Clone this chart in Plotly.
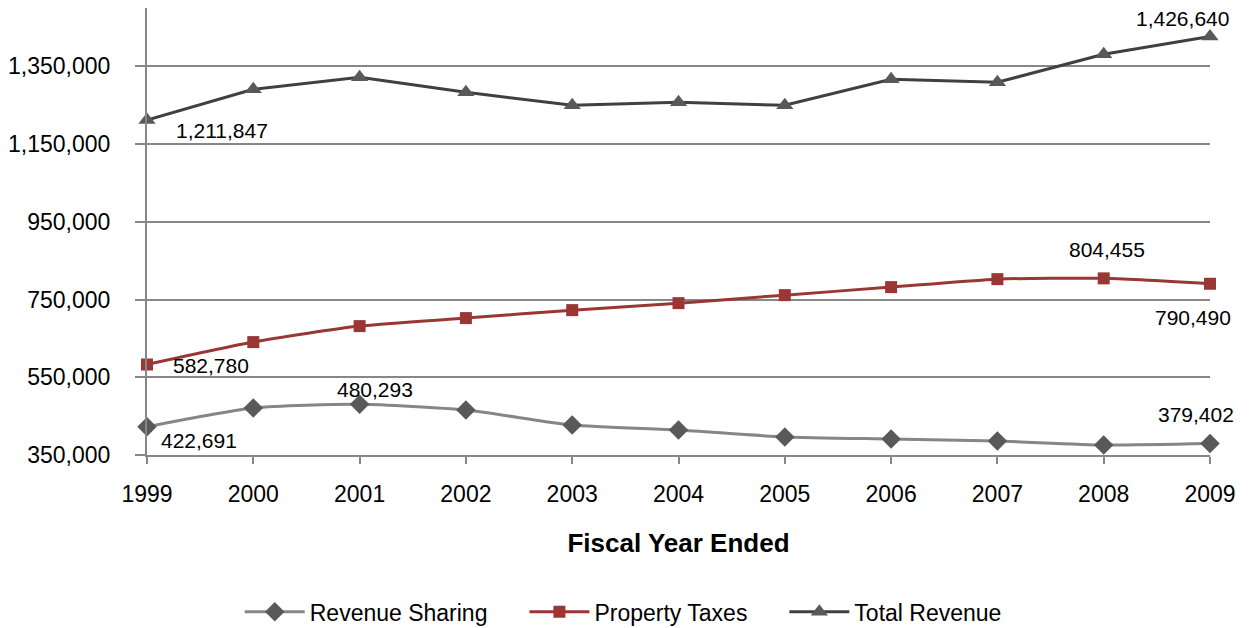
import plotly.graph_objects as go

years = [1999, 2000, 2001, 2002, 2003, 2004, 2005, 2006, 2007, 2008, 2009]
revenue_sharing = [422691, 470800, 480293, 465700, 427100, 414300, 396300, 391100, 386000, 375700, 379402]
property_taxes = [582780, 640500, 681600, 702200, 722700, 740700, 761300, 781900, 802400, 804455, 790490]
total_revenue = [1211847, 1290900, 1321700, 1283000, 1249700, 1257500, 1249700, 1316600, 1308900, 1380800, 1426640]
y_ticks = [350000, 550000, 750000, 950000, 1150000, 1350000]
series_names = ["Revenue Sharing", "Property Taxes", "Total Revenue"]

FONT = "Arial, Liberation Sans, sans-serif"
PAD = "\u00a0" * 5

fig = go.Figure()
fig.add_trace(go.Scatter(
    x=years, y=revenue_sharing, name=series_names[0] + PAD, mode="lines+markers",
    line=dict(color="#868686", width=3, shape="spline", smoothing=0.6),
    marker=dict(symbol="diamond", size=15, color="#595959"), cliponaxis=False))
fig.add_trace(go.Scatter(
    x=years, y=property_taxes, name=series_names[1] + PAD, mode="lines+markers",
    line=dict(color="#993735", width=3, shape="spline", smoothing=0.6),
    marker=dict(symbol="square", size=12, color="#993735"), cliponaxis=False))
fig.add_trace(go.Scatter(
    x=years, y=total_revenue, name=series_names[2], mode="lines+markers",
    line=dict(color="#404040", width=3),
    marker=dict(symbol="triangle-up", size=15, color="#595959"), cliponaxis=False))

def fmt(v):
    return f"{v:,}"

labels = [
    (years[0], total_revenue[0], 75, -10),
    (years[10], total_revenue[10], -28, 18),
    (years[9], property_taxes[9], 3, 29),
    (years[10], property_taxes[10], -17, -34),
    (years[0], property_taxes[0], 64, -1),
    (years[0], revenue_sharing[0], 52, -14),
    (years[2], revenue_sharing[2], 15, 15),
    (years[10], revenue_sharing[10], -14, 29),
]
for x, y, dx, dy in labels:
    fig.add_annotation(x=x, y=y, xref="x", yref="y", text=fmt(y), showarrow=False,
                       xshift=dx, yshift=dy, font=dict(family=FONT, size=21, color="#000000"))

fig.update_layout(
    width=1249, height=628,
    paper_bgcolor="white", plot_bgcolor="white",
    margin=dict(l=136, r=47, t=0, b=181),
    font=dict(family=FONT, size=21, color="#000000"),
    showlegend=True,
    legend=dict(orientation="h", x=0.448, xanchor="center", y=-0.351, yanchor="middle",
                font=dict(family=FONT, size=23), itemwidth=60, tracegroupgap=0),
    xaxis=dict(
        range=[1999, 2009], tickmode="array", tickvals=years, ticktext=[str(y) for y in years],
        showgrid=False, showline=True, linecolor="#878787", linewidth=2,
        ticks="outside", ticklen=7, tickcolor="#878787", tickwidth=2,
        ticklabelstandoff=10,
        tickfont=dict(family=FONT, size=23), zeroline=False,
        title=dict(text="<b>Fiscal Year Ended</b>", font=dict(family=FONT, size=26), standoff=28),
    ),
    yaxis=dict(
        range=[350000, 1500000], tickmode="array", tickvals=y_ticks,
        ticktext=[fmt(v) for v in y_ticks],
        showgrid=True, gridcolor="#878787", gridwidth=2,
        showline=True, linecolor="#878787", linewidth=2,
        ticks="outside", ticklen=10, tickcolor="#878787", tickwidth=2,
        ticklabelstandoff=20,
        tickfont=dict(family=FONT, size=23), zeroline=False,
    ),
)

fig.write_html("out.html")
